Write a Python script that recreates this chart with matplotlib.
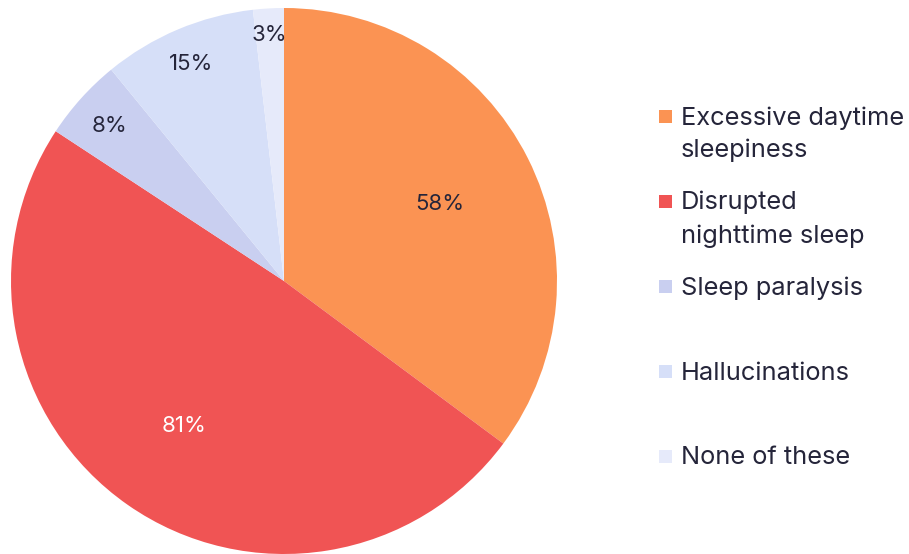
import matplotlib
matplotlib.use("Agg")
import matplotlib.pyplot as plt
from matplotlib.patches import Rectangle
import numpy as np

plt.rcParams["font.family"] = ["Inter", "DejaVu Sans"]

labels = ["Excessive daytime\nsleepiness", "Disrupted\nnighttime sleep",
          "Sleep paralysis", "Hallucinations", "None of these"]
values = [58, 81, 8, 15, 3]
colors = ["#FB9353", "#F05454", "#C9CFF0", "#D6DFF8", "#E6EAFA"]
pct_colors = ["#25253A", "#FFFFFF", "#25253A", "#25253A", "#25253A"]
# small slices get their labels pushed toward the rim
pct_dist = [0.64, 0.64, 0.86, 0.87, 0.91]
TEXT = "#25253A"

W, H = 909, 554
fig = plt.figure(figsize=(W / 100, H / 100), dpi=100)

cx, cy, r = 284, 281, 273
pad = 1.01
ax = fig.add_axes([(cx - r * pad) / W, (H - cy - r * pad) / H,
                   2 * r * pad / W, 2 * r * pad / H])
wedges, _ = ax.pie(values, colors=colors, startangle=90, counterclock=False,
                   wedgeprops=dict(linewidth=0))
ax.set_xlim(-pad, pad)
ax.set_ylim(-pad, pad)
ax.set_aspect("equal")
ax.axis("off")

for w, v, c, d in zip(wedges, values, pct_colors, pct_dist):
    mid = np.deg2rad((w.theta1 + w.theta2) / 2)
    ax.text(d * np.cos(mid), d * np.sin(mid), f"{v}%", ha="center",
            va="center_baseline", fontsize=16, color=c)

# legend on the right, one row every 85 px, wrapped lines 33 px apart
for i, (lab, col) in enumerate(zip(labels, colors)):
    y = 116 + 85 * i
    fig.add_artist(Rectangle((659 / W, (H - y - 6.5) / H), 13 / W, 13 / H,
                             transform=fig.transFigure, color=col, lw=0))
    for k, line in enumerate(lab.split("\n")):
        fig.text(681 / W, (H - y - 8.5 - 33 * k) / H, line, ha="left",
                 va="baseline", fontsize=18.3, color=TEXT)

fig.savefig("out.png", dpi=100)
